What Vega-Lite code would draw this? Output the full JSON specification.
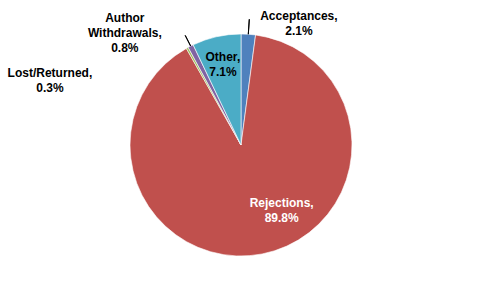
{
  "$schema": "https://vega.github.io/schema/vega-lite/v6.json",
  "width": 482,
  "height": 290,
  "autosize": {"type": "none"},
  "padding": 0,
  "background": "white",
  "view": {"stroke": null},
  "data": {
    "values": [
      {"category": "Acceptances", "percent": 2.1, "label": "Acceptances,\n2.1%"},
      {"category": "Rejections", "percent": 89.8, "label": "Rejections,\n89.8%"},
      {"category": "Lost/Returned", "percent": 0.3, "label": "Lost/Returned,\n0.3%"},
      {"category": "Author Withdrawals", "percent": 0.8, "label": "Author\nWithdrawals,\n0.8%"},
      {"category": "Other", "percent": 7.1, "label": "Other,\n7.1%"}
    ]
  },
  "transform": [{"window": [{"op": "row_number", "as": "idx"}]}],
  "encoding": {
    "theta": {"field": "percent", "type": "quantitative", "stack": true},
    "order": {"field": "idx", "type": "quantitative", "sort": "ascending"}
  },
  "layer": [
    {
      "mark": {"type": "arc", "radius": 111, "stroke": "#ffffff", "strokeWidth": 0.6},
      "encoding": {
        "color": {
          "field": "category",
          "type": "nominal",
          "scale": {
            "domain": ["Acceptances", "Rejections", "Lost/Returned", "Author Withdrawals", "Other"],
            "range": ["#4F81BD", "#C0504D", "#9BBB59", "#8064A2", "#4BACC6"]
          },
          "legend": null
        }
      }
    },
    {
      "mark": {"type": "arc", "radius": 111, "radius2": 126, "padAngle": 1, "fill": null, "stroke": "#000000", "strokeWidth": 1},
      "encoding": {
        "strokeOpacity": {"condition": {"test": "datum.category === 'Acceptances'", "value": 1}, "value": 0}
      }
    },
    {
      "mark": {"type": "arc", "radius": 111, "radius2": 123, "padAngle": 1, "fill": null, "stroke": "#000000", "strokeWidth": 1},
      "encoding": {
        "strokeOpacity": {"condition": {"test": "datum.category === 'Author Withdrawals'", "value": 1}, "value": 0}
      }
    },
    {
      "mark": {"type": "text", "font": "Liberation Sans", "fontWeight": "bold", "fontSize": 12, "lineBreak": "\n", "lineHeight": 15, "radius": 135, "dx": 49, "dy": 6, "color": "#000000"},
      "encoding": {
        "text": {"condition": {"test": "datum.category === 'Acceptances'", "field": "label"}, "value": ""}
      }
    },
    {
      "mark": {"type": "text", "font": "Liberation Sans", "fontWeight": "bold", "fontSize": 12, "lineBreak": "\n", "lineHeight": 15, "radius": 82, "dy": -8, "color": "#000000"},
      "encoding": {
        "text": {"condition": {"test": "datum.category === 'Other'", "field": "label"}, "value": ""}
      }
    },
    {
      "mark": {"type": "text", "font": "Liberation Sans", "fontWeight": "bold", "fontSize": 12, "lineBreak": "\n", "lineHeight": 15, "radius": 77, "dx": 26, "dy": -18, "color": "#ffffff"},
      "encoding": {
        "text": {"condition": {"test": "datum.category === 'Rejections'", "field": "label"}, "value": ""}
      }
    },
    {
      "mark": {"type": "text", "font": "Liberation Sans", "fontWeight": "bold", "fontSize": 12, "lineBreak": "\n", "lineHeight": 15, "radius": 126, "dx": -59, "dy": -15, "color": "#000000"},
      "encoding": {
        "text": {"condition": {"test": "datum.category === 'Author Withdrawals'", "field": "label"}, "value": ""}
      }
    },
    {
      "mark": {"type": "text", "font": "Liberation Sans", "fontWeight": "bold", "fontSize": 12, "lineBreak": "\n", "lineHeight": 15, "radius": 120, "dx": -133, "dy": 33, "color": "#000000"},
      "encoding": {
        "text": {"condition": {"test": "datum.category === 'Lost/Returned'", "field": "label"}, "value": ""}
      }
    }
  ]
}
